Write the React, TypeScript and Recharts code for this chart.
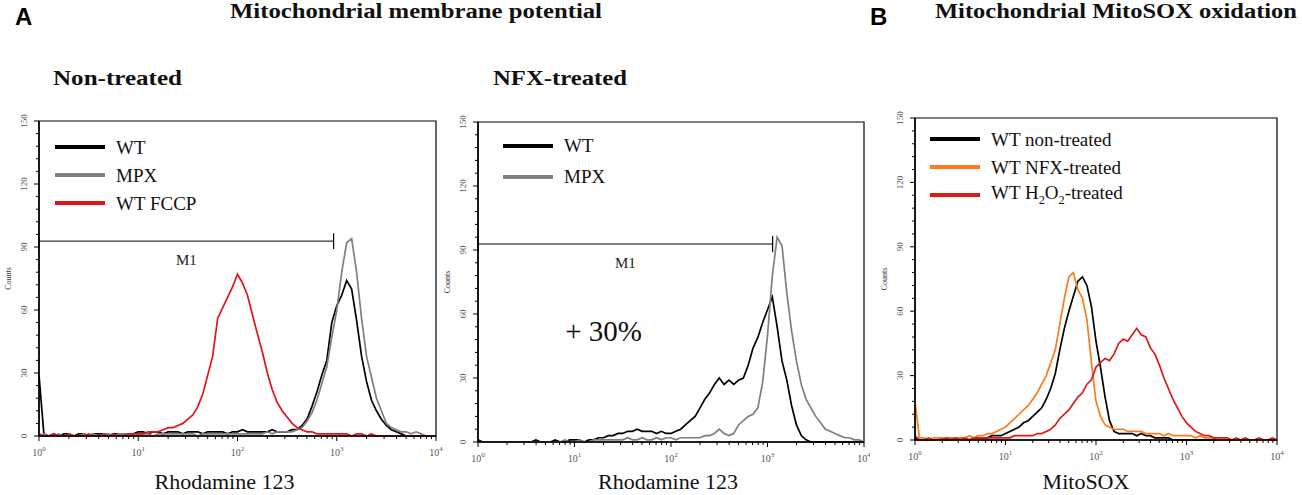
import { LineChart, Line, XAxis, YAxis, Legend, ReferenceLine, ReferenceArea, ReferenceDot } from "recharts";

const SERIF = '"Liberation Serif", "Times New Roman", Times, serif';
const SANS = '"Liberation Sans", Arial, sans-serif';

// fluorescence channels, 20 per decade (log10 steps of 0.05)
const CHANNELS = [
  1, 1.12, 1.26, 1.41, 1.58, 1.78, 2, 2.24, 2.51, 2.82, 3.16, 3.55, 3.98, 4.47, 5.01, 5.62, 6.31, 7.08, 7.94, 8.91,
  10, 11.2, 12.6, 14.1, 15.8, 17.8, 20, 22.4, 25.1, 28.2, 31.6, 35.5, 39.8, 44.7, 50.1, 56.2, 63.1, 70.8, 79.4, 89.1,
  100, 112, 126, 141, 158, 178, 200, 224, 251, 282, 316, 355, 398, 447, 501, 562, 631, 708, 794, 891,
  1000, 1122, 1259, 1413, 1585, 1778, 1995, 2239, 2512, 2818, 3162, 3548, 3981, 4467, 5012, 5623, 6310, 7079, 7943, 8913,
  10000,
];

const X_TICKS = [
  1, 2, 3, 4, 5, 6, 7, 8, 9, 10, 20, 30, 40, 50, 60, 70, 80, 90, 100, 200, 300, 400, 500, 600, 700, 800, 900,
  1000, 2000, 3000, 4000, 5000, 6000, 7000, 8000, 9000, 10000,
];
const Y_TICKS = [0, 6, 12, 18, 24, 30, 36, 42, 48, 54, 60, 66, 72, 78, 84, 90, 96, 102, 108, 114, 120, 126, 132, 138, 144, 150];

// Non-treated (Rhodamine 123)
const NT_WT = [
  29, 1, 0, 1, 0, 1, 1, 0, 1, 1, 0, 1, 1, 1, 0, 1, 1, 1, 1, 1,
  2, 2, 1, 2, 2, 1, 2, 2, 2, 1, 2, 2, 2, 1, 2, 2, 2, 2, 1, 2,
  2, 3, 2, 2, 2, 2, 2, 3, 2, 2, 2, 3, 3, 5, 8, 14, 21, 29, 36, 54,
  62, 67, 74, 70, 55, 38, 26, 17, 12, 8, 5, 3, 2, 1, 0, 0, 0, 0, 0, 0,
  0,
];
const NT_MPX = [
  0, 1, 0, 0, 1, 0, 1, 0, 0, 1, 0, 1, 0, 1, 1, 0, 1, 1, 1, 1,
  1, 1, 1, 0, 1, 1, 1, 1, 1, 1, 1, 1, 0, 1, 1, 1, 1, 1, 1, 1,
  1, 1, 1, 1, 1, 1, 2, 1, 2, 2, 2, 2, 3, 4, 7, 11, 17, 25, 33, 47,
  60, 78, 92, 94, 78, 56, 38, 28, 18, 12, 6, 4, 3, 2, 2, 1, 2, 1, 0, 0,
  0,
];
const NT_FCCP = [
  1, 0, 0, 1, 0, 0, 1, 0, 0, 0, 1, 0, 0, 1, 0, 1, 0, 0, 1, 1,
  1, 1, 2, 2, 2, 3, 4, 4, 5, 6, 8, 10, 14, 20, 29, 38, 56, 61, 66, 71,
  77, 73, 67, 58, 49, 40, 30, 22, 16, 12, 9, 6, 4, 3, 2, 2, 1, 1, 1, 1,
  1, 1, 1, 0, 1, 1, 0, 1, 0, 0, 0, 0, 0, 0, 0, 0, 0, 0, 0, 0,
  0,
];

// NFX-treated (Rhodamine 123)
const NFX_WT = [
  1, 0, 0, 0, 0, 0, 0, 0, 0, 0, 0, 0, 1, 0, 0, 0, 1, 0, 0, 1,
  1, 1, 0, 1, 1, 2, 2, 3, 3, 4, 4, 5, 5, 6, 5, 5, 5, 4, 5, 4,
  4, 5, 6, 8, 10, 12, 16, 20, 23, 27, 30, 27, 29, 27, 29, 30, 36, 44, 49, 56,
  62, 68, 54, 38, 29, 17, 8, 3, 1, 0, 0, 0, 0, 0, 0, 0, 0, 0, 0, 0,
  0,
];
const NFX_MPX = [
  0, 0, 0, 0, 0, 0, 0, 0, 0, 0, 0, 0, 0, 0, 0, 0, 0, 0, 1, 0,
  0, 1, 0, 0, 1, 1, 1, 1, 1, 1, 1, 2, 1, 1, 2, 1, 1, 2, 1, 2,
  2, 1, 2, 2, 2, 2, 2, 3, 3, 4, 6, 4, 3, 4, 8, 10, 12, 13, 16, 28,
  50, 78, 96, 92, 70, 52, 38, 27, 20, 16, 12, 9, 6, 5, 4, 3, 2, 2, 1, 1,
  0,
];

// MitoSOX
const SOX_NON = [
  1, 0, 0, 0, 0, 0, 1, 0, 1, 0, 1, 1, 0, 1, 1, 1, 1, 2, 2, 2,
  3, 4, 5, 6, 8, 9, 11, 13, 15, 19, 24, 31, 42, 52, 60, 67, 74, 76, 72, 62,
  46, 34, 20, 9, 4, 3, 3, 3, 3, 2, 3, 2, 2, 1, 1, 1, 1, 0, 0, 0,
  0, 0, 0, 0, 0, 0, 0, 0, 0, 0, 0, 0, 0, 0, 0, 0, 0, 0, 0, 0,
  0,
];
const SOX_NFX = [
  18, 1, 1, 0, 1, 1, 1, 1, 1, 1, 1, 1, 2, 1, 2, 2, 3, 3, 4, 5,
  6, 8, 10, 12, 14, 16, 19, 22, 26, 30, 36, 42, 54, 66, 76, 78, 70, 66, 56, 36,
  18, 11, 7, 6, 5, 5, 5, 4, 4, 4, 4, 3, 3, 3, 3, 2, 3, 2, 2, 2,
  2, 2, 1, 2, 1, 1, 1, 0, 0, 0, 0, 0, 0, 0, 0, 0, 0, 0, 0, 0,
  0,
];
const SOX_H2O2 = [
  2, 0, 0, 1, 0, 0, 0, 1, 0, 1, 0, 1, 0, 1, 1, 1, 1, 1, 1, 1,
  1, 1, 2, 2, 2, 2, 2, 3, 3, 4, 5, 7, 10, 12, 14, 17, 20, 22, 26, 28,
  34, 36, 38, 37, 40, 45, 47, 46, 49, 52, 49, 48, 43, 40, 35, 29, 24, 19, 15, 11,
  8, 6, 4, 3, 2, 2, 1, 1, 1, 1, 0, 1, 0, 1, 0, 0, 1, 0, 0, 1,
  0,
];

const M1_LEVEL = 92.8;
const M1_CAP = [89, 96.6];

interface SeriesDef {
  key: string;
  name: string;
  color: string;
  values: number[];
}

const NT_SERIES: SeriesDef[] = [
  { key: "wt", name: "WT", color: "#000000", values: NT_WT },
  { key: "mpx", name: "MPX", color: "#7f7f7f", values: NT_MPX },
  { key: "fccp", name: "WT FCCP", color: "#e3121b", values: NT_FCCP },
];
const NFX_SERIES: SeriesDef[] = [
  { key: "wt", name: "WT", color: "#000000", values: NFX_WT },
  { key: "mpx", name: "MPX", color: "#7f7f7f", values: NFX_MPX },
];
const SOX_SERIES: SeriesDef[] = [
  { key: "non", name: "WT non-treated", color: "#000000", values: SOX_NON },
  { key: "nfx", name: "WT NFX-treated", color: "#ff7a1a", values: SOX_NFX },
  { key: "h2o2", name: "WT H2O2-treated", color: "#dc1a16", values: SOX_H2O2 },
];

function LogTick(props: any) {
  const { x, y, payload } = props;
  const v = payload.value;
  const exp = Math.round(Math.log10(v));
  const major = Math.abs(Math.log10(v) - exp) < 1e-6;
  return (
    <g>
      <line x1={x} x2={x} y1={y} y2={y + (major ? 5 : 3)} stroke="#000" strokeWidth={1} />
      {major && (
        <text x={x} y={y + 20} textAnchor="middle" fontSize={10} fill="#555" style={{ fontFamily: SERIF }}>
          10
          <tspan dy={-5} fontSize={7}>
            {exp}
          </tspan>
        </text>
      )}
    </g>
  );
}

function CountTick(props: any) {
  const { x, y, payload } = props;
  const major = payload.value % 30 === 0;
  return (
    <g>
      <line x1={x - (major ? 5 : 3)} x2={x} y1={y} y2={y} stroke="#000" strokeWidth={1} />
      {major && (
        <text
          transform={`translate(${x - 15},${y}) rotate(-90)`}
          textAnchor="middle"
          dy="0.35em"
          fontSize={9}
          fill="#555"
          style={{ fontFamily: SERIF }}
        >
          {payload.value}
        </text>
      )}
    </g>
  );
}

function CountsLabel(props: any) {
  const vb = props.viewBox || { x: 0, y: 0, width: 0, height: 0 };
  const cx = vb.x + vb.width - 31;
  const cy = vb.y + vb.height / 2;
  return (
    <text
      transform={`translate(${cx},${cy}) rotate(-90)`}
      textAnchor="middle"
      dy="0.35em"
      fontSize={8}
      fill="#333"
      style={{ fontFamily: SERIF }}
    >
      Counts
    </text>
  );
}

function legendName(name: string) {
  if (name === "WT H2O2-treated") {
    return (
      <>
        WT H<sub style={{ fontSize: "0.65em" }}>2</sub>O<sub style={{ fontSize: "0.65em" }}>2</sub>-treated
      </>
    );
  }
  return name;
}

function LegendBox({ payload, rowHeight, order }: any) {
  const items = [...(payload || [])].sort(
    (a: any, b: any) => order.indexOf(a.value) - order.indexOf(b.value)
  );
  return (
    <div style={{ fontFamily: SERIF }}>
      {items.map((p: any) => (
        <div key={p.value} style={{ display: "flex", alignItems: "center", height: rowHeight, whiteSpace: "nowrap" }}>
          <span style={{ display: "inline-block", width: 50, height: 4, background: p.color, marginRight: 11 }} />
          <span style={{ fontFamily: SERIF, fontSize: 19, color: "#111", lineHeight: 1 }}>{legendName(p.value)}</span>
        </div>
      ))}
    </div>
  );
}

interface PanelProps {
  left: number;
  width: number;
  plotLeft: number;
  plotRight: number;
  plotTop: number;
  plotBottom: number;
  series: SeriesDef[];
  xTitle: string;
  titleShift: number;
  legendLeft: number;
  legendTop: number;
  rowHeight: number;
  m1End?: number;
  note?: { x: number; y: number; text: string };
}

const CHART_HEIGHT = 495;

function Histogram(p: PanelProps) {
  const data = CHANNELS.map((x, i) => {
    const row: Record<string, number> = { x };
    p.series.forEach((s) => {
      row[s.key] = s.values[i];
    });
    return row;
  });
  const axisLine = { stroke: "#000", strokeWidth: 1.5 };
  const order = p.series.map((s) => s.name);

  return (
    <div style={{ position: "absolute", left: p.left, top: 0 }}>
      <LineChart
        width={p.width}
        height={CHART_HEIGHT}
        data={data}
        margin={{ top: p.plotTop, right: p.left + p.width - p.plotRight, bottom: 0, left: 0 }}
      >
        <XAxis
          dataKey="x"
          type="number"
          scale="log"
          domain={[1, 10000]}
          ticks={X_TICKS}
          interval={0}
          tick={LogTick}
          tickLine={false}
          tickSize={0}
          tickMargin={0}
          axisLine={axisLine}
          height={CHART_HEIGHT - p.plotBottom}
          label={(lp: any) => {
            const vb = lp.viewBox || { x: 0, y: 0, width: 0, height: 0 };
            return (
              <text
                x={vb.x + vb.width / 2 + p.titleShift}
                y={vb.y + vb.height - 6}
                textAnchor="middle"
                fontSize={22}
                fill="#111"
                style={{ fontFamily: SERIF }}
              >
                {p.xTitle}
              </text>
            );
          }}
        />
        <YAxis
          type="number"
          domain={[0, 150]}
          ticks={Y_TICKS}
          interval={0}
          tick={CountTick}
          tickLine={false}
          tickSize={0}
          tickMargin={0}
          axisLine={axisLine}
          width={p.plotLeft - p.left}
          label={CountsLabel}
        />
        <ReferenceArea x1={1} x2={10000} y1={0} y2={150} fill="none" stroke="#000" strokeWidth={1.2} />
        {p.m1End && (
          <ReferenceLine
            segment={[
              { x: 1, y: M1_LEVEL },
              { x: p.m1End, y: M1_LEVEL },
            ]}
            stroke="#000"
            strokeWidth={1}
            label={(lp: any) => {
              const vb = lp.viewBox || { x: 0, y: 0, width: 0, height: 0 };
              return (
                <text
                  x={vb.x + vb.width / 2}
                  y={vb.y + 24}
                  textAnchor="middle"
                  fontSize={15}
                  fill="#222"
                  style={{ fontFamily: SERIF }}
                >
                  M1
                </text>
              );
            }}
          />
        )}
        {p.m1End && (
          <ReferenceLine
            segment={[
              { x: 1, y: M1_CAP[0] },
              { x: 1, y: M1_CAP[1] },
            ]}
            stroke="#000"
            strokeWidth={1.2}
          />
        )}
        {p.m1End && (
          <ReferenceLine
            segment={[
              { x: p.m1End, y: M1_CAP[0] },
              { x: p.m1End, y: M1_CAP[1] },
            ]}
            stroke="#000"
            strokeWidth={1.2}
          />
        )}
        {p.note && (
          <ReferenceDot
            x={p.note.x}
            y={p.note.y}
            r={1}
            fill="none"
            stroke="none"
            label={(lp: any) => {
              const vb = lp.viewBox || { x: 0, y: 0, width: 0, height: 0 };
              return (
                <text
                  x={vb.x + vb.width / 2}
                  y={vb.y + vb.height / 2}
                  dy="0.35em"
                  textAnchor="start"
                  fontSize={29}
                  fill="#111"
                  style={{ fontFamily: SERIF }}
                >
                  {p.note!.text}
                </text>
              );
            }}
          />
        )}
        {p.series.map((s) => (
          <Line
            key={s.key}
            type="linear"
            dataKey={s.key}
            name={s.name}
            stroke={s.color}
            strokeWidth={1.7}
            dot={false}
            activeDot={false}
            isAnimationActive={false}
          />
        ))}
        <Legend
          layout="vertical"
          align="center"
          verticalAlign="middle"
          wrapperStyle={{ left: p.legendLeft, top: p.legendTop, width: "auto", height: "auto" }}
          content={(lp: any) => <LegendBox {...lp} rowHeight={p.rowHeight} order={order} />}
        />
      </LineChart>
    </div>
  );
}

export default function App() {
  return (
    <div
      style={{
        position: "absolute",
        left: 0,
        top: 0,
        width: 1302,
        height: 495,
        background: "#fff",
        overflow: "hidden",
      }}
    >
      <Histogram
        left={0}
        width={452}
        plotLeft={39}
        plotRight={436}
        plotTop={121}
        plotBottom={436}
        series={NT_SERIES}
        xTitle="Rhodamine 123"
        titleShift={-13}
        legendLeft={55}
        legendTop={133}
        rowHeight={28}
        m1End={930}
      />
      <Histogram
        left={440}
        width={430}
        plotLeft={478}
        plotRight={864}
        plotTop={122}
        plotBottom={442}
        series={NFX_SERIES}
        xTitle="Rhodamine 123"
        titleShift={-3}
        legendLeft={63}
        legendTop={130}
        rowHeight={31}
        m1End={1130}
        note={{ x: 8, y: 52, text: "+ 30%" }}
      />
      <Histogram
        left={875}
        width={427}
        plotLeft={915}
        plotRight={1277}
        plotTop={118}
        plotBottom={440}
        series={SOX_SERIES}
        xTitle="MitoSOX"
        titleShift={-10}
        legendLeft={55}
        legendTop={125}
        rowHeight={28}
      />
      <svg
        width={1302}
        height={495}
        style={{ position: "absolute", left: 0, top: 0, pointerEvents: "none" }}
      >
        <text x={15} y={25} fontWeight="bold" fontSize={24} fill="#000" style={{ fontFamily: SANS }}>
          A
        </text>
        <text x={870} y={25} fontWeight="bold" fontSize={24} fill="#000" style={{ fontFamily: SANS }}>
          B
        </text>
        <text
          x={230}
          y={18}
          fontWeight="bold"
          fontSize={20}
          fill="#111"
          textLength={372}
          lengthAdjust="spacingAndGlyphs"
          style={{ fontFamily: SERIF }}
        >
          Mitochondrial membrane potential
        </text>
        <text
          x={935}
          y={18}
          fontWeight="bold"
          fontSize={20}
          fill="#111"
          textLength={362}
          lengthAdjust="spacingAndGlyphs"
          style={{ fontFamily: SERIF }}
        >
          Mitochondrial MitoSOX oxidation
        </text>
        <text
          x={53}
          y={85}
          fontWeight="bold"
          fontSize={22}
          fill="#111"
          textLength={129}
          lengthAdjust="spacingAndGlyphs"
          style={{ fontFamily: SERIF }}
        >
          Non-treated
        </text>
        <text
          x={493}
          y={85}
          fontWeight="bold"
          fontSize={22}
          fill="#111"
          textLength={134}
          lengthAdjust="spacingAndGlyphs"
          style={{ fontFamily: SERIF }}
        >
          NFX-treated
        </text>
      </svg>
    </div>
  );
}
